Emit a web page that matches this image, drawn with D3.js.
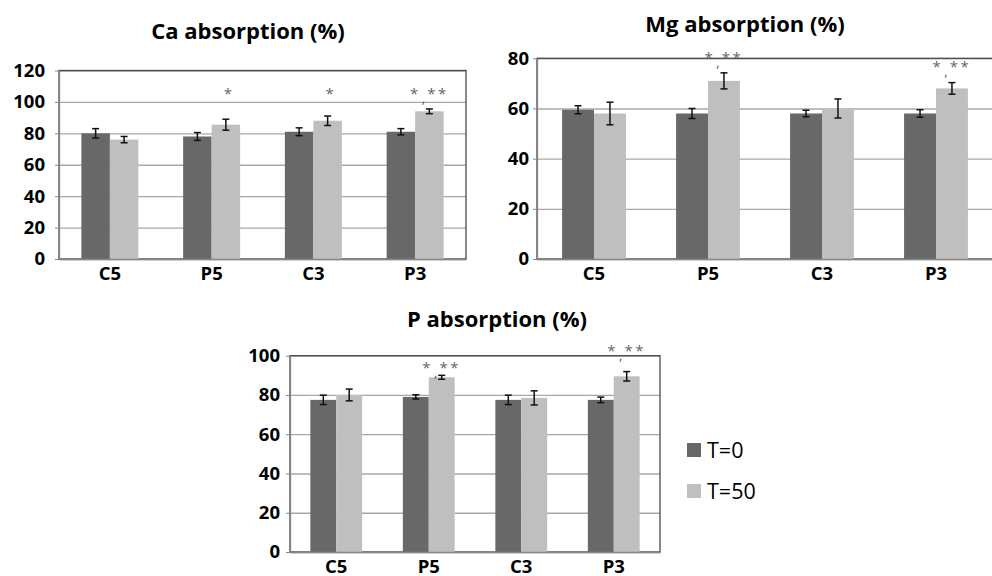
<!DOCTYPE html>
<html>
<head>
<meta charset="utf-8">
<script src="https://cdn.jsdelivr.net/npm/d3@7/dist/d3.min.js"></script>
<style>
  html, body { margin: 0; padding: 0; background: #fff; }
  svg { display: block; }
  text { font-family: "Open Sans", "DejaVu Sans", sans-serif; }
</style>
</head>
<body>
<svg id="chart" width="992" height="576"></svg>
<script>
// ---------- DATA ----------
const categories = ["C5", "P5", "C3", "P3"];
const seriesNames = ["T=0", "T=50"];

const caTicks = [0, 20, 40, 60, 80, 100, 120];
const caT0 = [80, 78, 81, 81];
const caT0Err = [3, 2.5, 2.5, 2];
const caT50 = [76, 85.5, 88, 94];
const caT50Err = [2, 3.5, 3, 1.5];
const caSig = ["", "*", "*", "*,**"];
const caSigAt = [null, 106, 106, 106];

const mgTicks = [0, 20, 40, 60, 80];
const mgT0 = [59.5, 58, 58, 58];
const mgT0Err = [1.6, 2, 1.3, 1.5];
const mgT50 = [58, 71, 60, 68];
const mgT50Err = [4.5, 3.2, 3.8, 2.3];
const mgSig = ["", "*,**", "", "*,**"];
const mgSigAt = [null, 80.9, null, 77.3];

const pTicks = [0, 20, 40, 60, 80, 100];
const pT0 = [77.5, 79, 77.5, 77.5];
const pT0Err = [2.4, 1.1, 2.4, 1.4];
const pT50 = [80, 89, 78.5, 89.5];
const pT50Err = [3, 1, 3.6, 2.4];
const pSig = ["", "*,**", "", "*,**"];
const pSigAt = [null, 94.9, null, 103.6];

// ---------- STYLE ----------
const colors = ["#686868", "#bfbfbf"];
const svg = d3.select("#chart");

function drawChart(cfg) {
  const g = svg.append("g");
  const x = d3.scaleBand().domain(categories).range([cfg.x0, cfg.x1]).paddingInner(0.44).paddingOuter(0.22);
  const xs = d3.scaleBand().domain(seriesNames).range([0, x.bandwidth()]);
  const y = d3.scaleLinear().domain([0, d3.max(cfg.ticks)]).range([cfg.yb, cfg.yt]);

  // gridlines
  const grid = g.append("g").attr("transform", `translate(${cfg.x0},0)`)
    .call(d3.axisLeft(y).tickValues(cfg.ticks).tickSize(-(cfg.x1 - cfg.x0)).tickFormat(""));
  grid.select(".domain").remove();
  grid.selectAll("line").attr("stroke", "#a8a8a8").attr("stroke-width", 1.3);

  // frame
  g.append("rect").attr("x", cfg.x0).attr("y", y(d3.max(cfg.ticks)))
    .attr("width", cfg.x1 - cfg.x0).attr("height", cfg.yb - y(d3.max(cfg.ticks)))
    .attr("fill", "none").attr("stroke", "#4a4a4a").attr("stroke-width", 1.3);

  // bars
  const rows = categories.map((c, i) => ({
    cat: c,
    vals: [
      { s: seriesNames[0], v: cfg.t0[i], e: cfg.t0e[i] },
      { s: seriesNames[1], v: cfg.t50[i], e: cfg.t50e[i] }
    ],
    sig: cfg.sig[i], sigAt: cfg.sigAt[i]
  }));

  const grp = g.selectAll(".grp").data(rows).join("g")
    .attr("transform", d => `translate(${x(d.cat)},0)`);

  grp.selectAll("rect").data(d => d.vals).join("rect")
    .attr("x", d => xs(d.s)).attr("width", xs.bandwidth())
    .attr("y", d => y(d.v)).attr("height", d => cfg.yb - y(d.v))
    .attr("fill", (d, i) => colors[i]);

  // error bars
  const eb = grp.selectAll(".eb").data(d => d.vals).join("g").attr("class", "eb")
    .attr("stroke", "#111").attr("stroke-width", 1.5);
  eb.append("line")
    .attr("x1", d => xs(d.s) + xs.bandwidth() / 2).attr("x2", d => xs(d.s) + xs.bandwidth() / 2)
    .attr("y1", d => y(d.v - d.e)).attr("y2", d => y(d.v + d.e));
  [1, -1].forEach(sgn => {
    eb.append("line")
      .attr("x1", d => xs(d.s) + xs.bandwidth() / 2 - 3.5).attr("x2", d => xs(d.s) + xs.bandwidth() / 2 + 3.5)
      .attr("y1", d => y(d.v + sgn * d.e)).attr("y2", d => y(d.v + sgn * d.e));
  });

  // significance marks
  const sg = grp.filter(d => d.sig);
  sg.append("text")
    .attr("x", d => xs(seriesNames[1]) + xs.bandwidth() / 2 + (d.sig === "*" ? 2 : 0))
    .attr("y", d => y(d.sigAt) + 7)
    .attr("text-anchor", "middle")
    .attr("font-family", "DejaVu Sans, sans-serif")
    .attr("font-size", 15).attr("fill", "#666")
    .attr("letter-spacing", d => d.sig === "*" ? 0 : 2.5)
    .text(d => d.sig.replace(",", " "));
  sg.filter(d => d.sig.includes(",")).append("text")
    .attr("x", d => xs(seriesNames[1]) + xs.bandwidth() / 2 - 6)
    .attr("y", d => y(d.sigAt) + 11)
    .attr("text-anchor", "middle")
    .attr("font-family", "DejaVu Sans, sans-serif")
    .attr("font-size", 13).attr("fill", "#555")
    .text(",");

  // y axis
  const ya = g.append("g").attr("transform", `translate(${cfg.x0},0)`)
    .call(d3.axisLeft(y).tickValues(cfg.ticks).tickSize(4).tickSizeOuter(0).tickPadding(cfg.labGap));
  ya.select(".domain").attr("stroke", "#868686").attr("stroke-width", 1.3);
  ya.selectAll("line").attr("stroke", "#868686");
  ya.selectAll("text").attr("font-size", 18.5).attr("font-weight", 700).attr("fill", "#000")
    .style("font-family", '"Open Sans", sans-serif');

  // x axis
  const xa = g.append("g").attr("transform", `translate(0,${cfg.yb})`)
    .call(d3.axisBottom(x).tickSize(0).tickPadding(8));
  xa.select(".domain").attr("stroke", "#868686").attr("stroke-width", 1.3);
  xa.selectAll("text").attr("font-size", 18.5).attr("font-weight", 700).attr("fill", "#000")
    .style("font-family", '"Open Sans", sans-serif');

  // title
  g.append("text").attr("x", cfg.tx).attr("y", cfg.ty).attr("text-anchor", "middle")
    .attr("font-size", 22).attr("font-weight", 700).attr("fill", "#000")
    .text(cfg.title);
}

drawChart({ title: "Ca absorption (%)", tx: 248, ty: 39, x0: 59, x1: 466, yb: 259, yt: 70.5, labGap: 10,
  ticks: caTicks, t0: caT0, t0e: caT0Err, t50: caT50, t50e: caT50Err, sig: caSig, sigAt: caSigAt });
drawChart({ title: "Mg absorption (%)", tx: 745, ty: 32, x0: 537, x1: 993, yb: 259, yt: 58.3, labGap: 4,
  ticks: mgTicks, t0: mgT0, t0e: mgT0Err, t50: mgT50, t50e: mgT50Err, sig: mgSig, sigAt: mgSigAt });
drawChart({ title: "P absorption (%)", tx: 497, ty: 327, x0: 290, x1: 660, yb: 552, yt: 355.7, labGap: 6,
  ticks: pTicks, t0: pT0, t0e: pT0Err, t50: pT50, t50e: pT50Err, sig: pSig, sigAt: pSigAt });

// legend
const leg = svg.append("g").attr("transform", "translate(687,443)");
const li = leg.selectAll("g").data(seriesNames).join("g").attr("transform", (d, i) => `translate(0,${i * 41})`);
li.append("rect").attr("width", 14).attr("height", 14).attr("fill", (d, i) => colors[i]);
li.append("text").attr("x", 20).attr("y", 14.5).attr("font-size", 21.5).attr("fill", "#000").text(d => d);
</script>
</body>
</html>
